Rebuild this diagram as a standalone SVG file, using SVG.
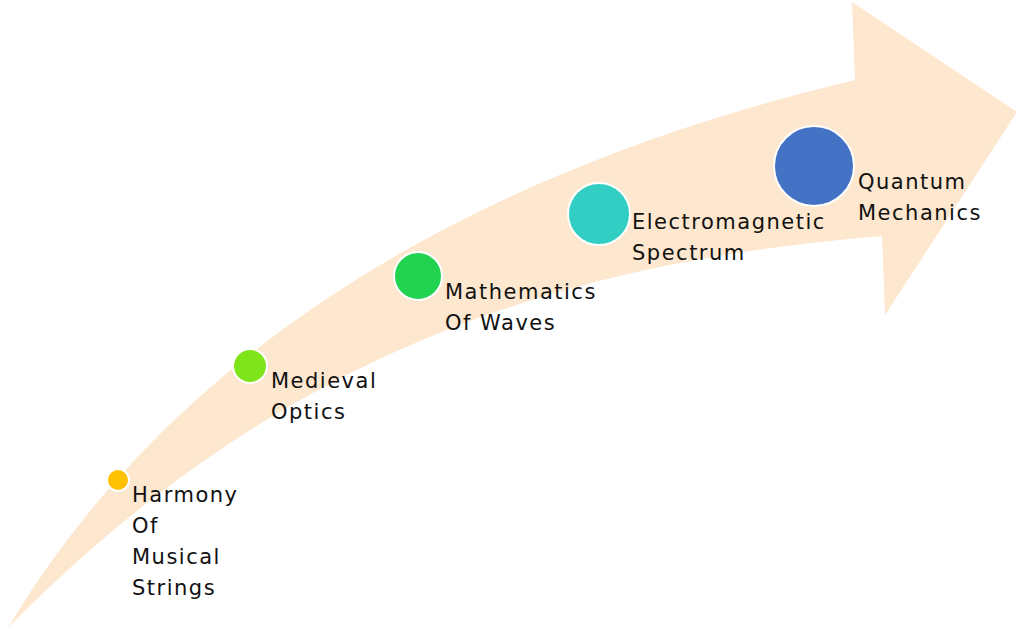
<svg xmlns="http://www.w3.org/2000/svg" width="1024" height="630" viewBox="0 0 1024 630">
<style>
.t{font-family:"DejaVu Sans",sans-serif;font-size:21px;fill:#111;letter-spacing:1.5px}
.c{stroke:#fff;stroke-width:2}
</style>
<rect width="1024" height="630" fill="#fff"/>
<g id="arrow">
<path d="M8,628 C120,440 350,200 855,80 L852,2 L1017,112 L885,315 L882,236 C600,260 300,330 8,628 Z" fill="#FDE8CF"/>
</g>
<g id="n1"><circle class="c" cx="118" cy="480" r="11" fill="#FFC000"/><text class="t" x="132" y="502">Harmony</text><text class="t" x="132" y="533">Of</text><text class="t" x="132" y="564">Musical</text><text class="t" x="132" y="595">Strings</text></g>
<g id="n2"><circle class="c" cx="250" cy="366" r="17" fill="#7FE51A"/><text class="t" x="271" y="388">Medieval</text><text class="t" x="271" y="419">Optics</text></g>
<g id="n3"><circle class="c" cx="418" cy="276" r="24" fill="#22D352"/><text class="t" x="445" y="299">Mathematics</text><text class="t" x="445" y="330">Of Waves</text></g>
<g id="n4"><circle class="c" cx="599" cy="214" r="31" fill="#33CEC3"/><text class="t" x="632" y="229">Electromagnetic</text><text class="t" x="632" y="260">Spectrum</text></g>
<g id="n5"><circle class="c" cx="814" cy="166" r="40" fill="#4472C4"/><text class="t" x="858" y="189">Quantum</text><text class="t" x="858" y="220">Mechanics</text></g>
<g id="connectors"/>
</svg>
